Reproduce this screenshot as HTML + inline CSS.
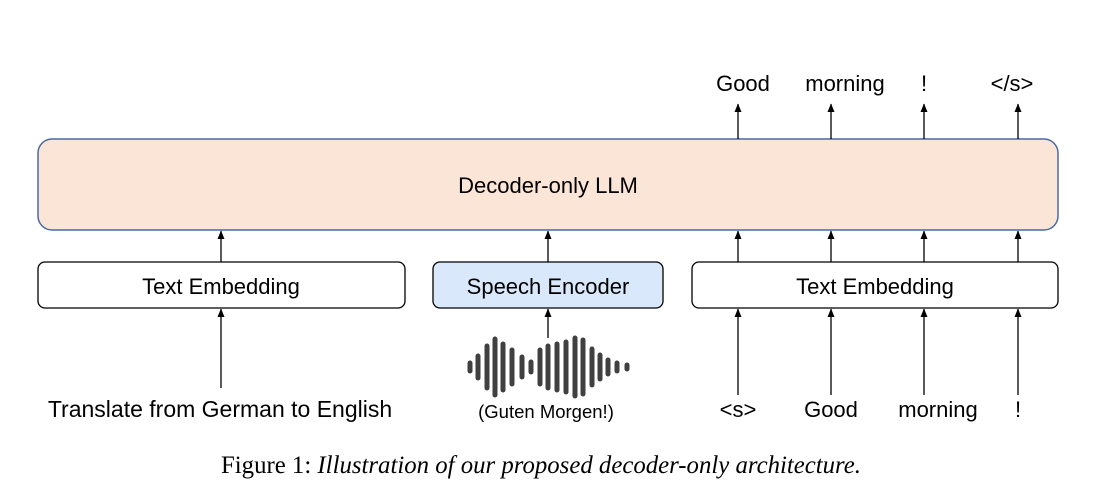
<!DOCTYPE html>
<html><head><style>
body{margin:0;background:#fff;}
svg text{font-family:"Liberation Sans",sans-serif;}
</style></head><body>
<svg width="1115" height="491" xmlns="http://www.w3.org/2000/svg">
<defs><marker id="a" markerWidth="9" markerHeight="8" refX="8" refY="4" orient="auto" markerUnits="userSpaceOnUse"><path d="M0,0.5 L8.5,4 L0,7.5 Z" fill="#000"/></marker></defs>
<rect x="38" y="139" width="1020" height="91" rx="14" fill="#fbe5d6" stroke="#4a6aa0" stroke-width="1.5"/>
<text x="548" y="193" font-size="22" text-anchor="middle">Decoder-only LLM</text>
<rect x="38" y="262" width="367" height="46" rx="7" fill="#fff" stroke="#000" stroke-width="1.3"/>
<text x="221" y="294" font-size="22" text-anchor="middle">Text Embedding</text>
<rect x="433" y="262" width="230" height="46" rx="7" fill="#dae8fc" stroke="#000" stroke-width="1.3"/>
<text x="548" y="294" font-size="22" text-anchor="middle">Speech Encoder</text>
<rect x="692" y="262" width="366" height="46" rx="7" fill="#fff" stroke="#000" stroke-width="1.3"/>
<text x="875" y="294" font-size="22" text-anchor="middle">Text Embedding</text>
<g stroke="#000" stroke-width="1.3" marker-end="url(#a)">
<line x1="221" y1="262" x2="221" y2="231"/>
<line x1="548" y1="262" x2="548" y2="231"/>
<line x1="738" y1="262" x2="738" y2="231"/>
<line x1="831" y1="262" x2="831" y2="231"/>
<line x1="924" y1="262" x2="924" y2="231"/>
<line x1="1018" y1="262" x2="1018" y2="231"/>
<line x1="738" y1="139" x2="738" y2="104"/>
<line x1="831" y1="139" x2="831" y2="104"/>
<line x1="924" y1="139" x2="924" y2="104"/>
<line x1="1018" y1="139" x2="1018" y2="104"/>
<line x1="221" y1="388" x2="221" y2="309"/>
<line x1="548" y1="338" x2="548" y2="309"/>
<line x1="738" y1="395" x2="738" y2="309"/>
<line x1="831" y1="395" x2="831" y2="309"/>
<line x1="924" y1="395" x2="924" y2="309"/>
<line x1="1018" y1="395" x2="1018" y2="309"/>
</g>
<g font-size="22" text-anchor="middle">
<text x="743" y="91">Good</text><text x="845" y="91">morning</text><text x="924" y="91">!</text><text x="1012" y="91">&lt;/s&gt;</text>
<text x="220" y="417" font-size="23">Translate from German to English</text>
<text x="738" y="417">&lt;s&gt;</text><text x="831" y="417">Good</text><text x="938" y="417">morning</text><text x="1018" y="417">!</text>
<text x="546" y="418" font-size="18.5">(Guten Morgen!)</text>
</g>
<g stroke="#404040" stroke-width="5" stroke-linecap="round">
<line x1="470" y1="363" x2="470" y2="371"/>
<line x1="478" y1="356" x2="478" y2="378"/>
<line x1="487" y1="346" x2="487" y2="388"/>
<line x1="495" y1="339" x2="495" y2="395"/>
<line x1="503" y1="344" x2="503" y2="390"/>
<line x1="512" y1="350" x2="512" y2="384"/>
<line x1="522" y1="357" x2="522" y2="377"/>
<line x1="531" y1="362" x2="531" y2="372"/>
<line x1="540" y1="350" x2="540" y2="384"/>
<line x1="548" y1="346" x2="548" y2="388"/>
<line x1="557" y1="344" x2="557" y2="390"/>
<line x1="566" y1="342" x2="566" y2="392"/>
<line x1="575" y1="338" x2="575" y2="396"/>
<line x1="583" y1="340" x2="583" y2="394"/>
<line x1="592" y1="349" x2="592" y2="385"/>
<line x1="600" y1="355" x2="600" y2="379"/>
<line x1="608" y1="360" x2="608" y2="374"/>
<line x1="617" y1="363" x2="617" y2="371"/>
<line x1="627" y1="365" x2="627" y2="369"/>
</g>
<text x="541" y="473" font-size="24.8" text-anchor="middle" style="font-family:'Liberation Serif',serif">Figure 1: <tspan font-style="italic">Illustration of our proposed decoder-only architecture.</tspan></text>
</svg>
</body></html>
